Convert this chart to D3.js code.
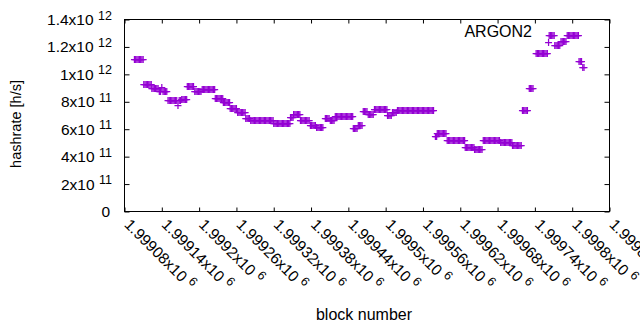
<!DOCTYPE html>
<html><head><meta charset="utf-8">
<script src="https://cdn.jsdelivr.net/npm/d3@7"></script>
<style>html,body{margin:0;padding:0;background:#fff;}svg{display:block;font-family:"Liberation Sans",Arial,sans-serif;}</style>
</head><body><svg id="chart" width="640" height="330"></svg>
<script>
// ---- data ----
const blocks = [
1999096,1999098,1999100,1999102,1999104,1999106,1999108,1999110,
1999111,1999113,1999115,1999117,1999119,1999121,1999123,
1999124,1999126,1999128,1999130,1999132,1999134,
1999136,1999138,1999140,1999142,1999144,1999146,1999148,
1999150,1999152,1999154,1999156,1999158,1999160,1999162,1999164,1999166,1999168,1999170,
1999172,1999174,1999176,1999178,1999180,
1999181,1999183,1999185,1999187,1999189,1999191,
1999193,1999195,1999197,1999199,1999201,1999203,
1999205,1999207,1999209,1999211,1999213,1999215,1999217,1999219,1999221,1999223,1999225,
1999226,1999228,1999230,1999232,1999234,1999236,1999238,
1999239,1999241,1999243,1999245,1999247,1999249,
1999250,1999252,1999254,1999256,1999258,1999260,
1999262,1999264,1999266,1999268,1999270,1999272,1999274,
1999275,1999277,1999279,1999281,
1999283,1999285,1999287,1999289,1999291,1999293,1999295,1999297,1999299,1999301,1999303,1999305,1999307,1999309,1999311,1999313,1999315,1999317,1999319,
1999320,1999322,1999324,1999326,1999328,1999330,1999332,1999334,1999336,1999338,1999340,1999342,1999344,1999346,
1999347,1999349,1999351,
1999352,1999354,1999356,1999358,1999360,1999362,
1999363,1999365,1999367,1999369,1999371,1999373,1999375,1999377,
1999379,1999381,1999383,1999385,1999387,
1999389,1999391,1999393,1999395,1999397,1999399,
1999403,1999405,1999407,1999409,
1999411,1999413,1999415,1999417,
1999419,1999421,1999423,1999425,1999427,1999429,1999431,1999433,1999435,1999437,1999439,1999441,1999443,1999445,1999447,
1999448,1999450,1999452,1999454,
1999456,1999458,1999460,1999462,
1999464,1999466,1999468,1999470,
1999472,1999474,1999476,1999478,1999480,
1999482,1999484,1999486,1999488,1999490,1999492,1999494,1999496,1999498,1999500,1999502,
1999503,1999505,1999507,1999509,
1999511,1999513,1999515,1999517,
1999519,1999521,1999523,1999525,1999527,1999529,1999531,1999533,1999535,1999537,1999539,1999541,1999543,1999545,1999547,1999549,1999551,1999553,1999555,1999557,1999559,1999561,1999563,1999565,1999567,1999569,1999571,1999573,1999575,1999577,
1999580,1999582,
1999583,1999585,1999587,1999589,1999591,1999593,1999595,1999597,
1999599,1999601,1999603,1999605,1999607,1999609,1999611,1999613,1999615,1999617,1999619,1999621,1999623,1999625,1999627,
1999628,1999630,1999632,1999634,1999636,1999638,1999640,1999642,
1999643,1999645,1999647,1999649,1999651,1999653,1999655,
1999657,1999659,1999661,1999663,1999665,1999667,1999669,1999671,1999673,1999675,1999677,1999679,1999681,1999683,
1999685,1999687,1999689,1999691,1999693,1999695,1999697,1999699,1999701,1999703,
1999704,1999706,1999708,1999710,1999712,1999714,1999716,1999718,
1999720,1999722,1999724,1999726,1999728,
1999731,1999733,1999735,1999737,
1999742,1999744,1999746,1999748,1999750,1999752,1999754,1999756,1999758,1999760,
1999762,
1999763,1999765,1999767,1999769,1999771,
1999772,1999774,1999776,1999778,1999780,
1999782,1999784,1999786,1999788,1999790,
1999792,1999794,1999796,1999798,1999800,1999802,1999804,1999806,1999808,1999810,
1999811,1999813,1999815,
1999817,1999819
];
const hashrate = [
1.113e12,1.113e12,1.113e12,1.113e12,1.113e12,1.113e12,1.113e12,1.113e12,
0.931e12,0.931e12,0.931e12,0.931e12,0.931e12,0.931e12,0.931e12,
0.902e12,0.902e12,0.902e12,0.902e12,0.902e12,0.902e12,
0.882e12,0.882e12,0.906e12,0.882e12,0.882e12,0.882e12,0.882e12,
0.815e12,0.815e12,0.815e12,0.815e12,0.815e12,0.815e12,0.815e12,0.815e12,0.780e12,0.815e12,0.815e12,
0.822e12,0.822e12,0.822e12,0.822e12,0.822e12,
0.917e12,0.917e12,0.917e12,0.917e12,0.917e12,0.917e12,
0.880e12,0.880e12,0.880e12,0.880e12,0.880e12,0.880e12,
0.895e12,0.895e12,0.895e12,0.895e12,0.895e12,0.895e12,0.895e12,0.895e12,0.895e12,0.895e12,0.895e12,
0.829e12,0.829e12,0.829e12,0.829e12,0.829e12,0.829e12,0.829e12,
0.795e12,0.795e12,0.795e12,0.795e12,0.795e12,0.795e12,
0.758e12,0.758e12,0.758e12,0.758e12,0.758e12,0.758e12,
0.722e12,0.722e12,0.722e12,0.722e12,0.722e12,0.722e12,0.722e12,
0.685e12,0.685e12,0.685e12,0.685e12,
0.664e12,0.664e12,0.664e12,0.664e12,0.664e12,0.664e12,0.664e12,0.664e12,0.664e12,0.664e12,0.664e12,0.664e12,0.664e12,0.664e12,0.664e12,0.664e12,0.664e12,0.664e12,0.664e12,
0.647e12,0.647e12,0.647e12,0.647e12,0.647e12,0.647e12,0.647e12,0.647e12,0.647e12,0.647e12,0.647e12,0.647e12,0.647e12,0.647e12,
0.689e12,0.689e12,0.689e12,
0.712e12,0.712e12,0.712e12,0.712e12,0.712e12,0.712e12,
0.664e12,0.664e12,0.664e12,0.664e12,0.664e12,0.664e12,0.664e12,0.664e12,
0.629e12,0.629e12,0.629e12,0.629e12,0.629e12,
0.613e12,0.613e12,0.613e12,0.613e12,0.613e12,0.613e12,
0.682e12,0.682e12,0.682e12,0.682e12,
0.664e12,0.664e12,0.664e12,0.664e12,
0.693e12,0.693e12,0.693e12,0.693e12,0.693e12,0.693e12,0.693e12,0.693e12,0.693e12,0.693e12,0.693e12,0.693e12,0.693e12,0.693e12,0.693e12,
0.609e12,0.609e12,0.609e12,0.609e12,
0.634e12,0.634e12,0.634e12,0.634e12,
0.733e12,0.733e12,0.733e12,0.733e12,
0.711e12,0.711e12,0.711e12,0.711e12,0.711e12,
0.749e12,0.749e12,0.749e12,0.749e12,0.749e12,0.749e12,0.749e12,0.749e12,0.749e12,0.749e12,0.749e12,
0.704e12,0.704e12,0.704e12,0.704e12,
0.729e12,0.729e12,0.729e12,0.729e12,
0.742e12,0.742e12,0.742e12,0.742e12,0.742e12,0.742e12,0.742e12,0.742e12,0.742e12,0.742e12,0.742e12,0.742e12,0.742e12,0.742e12,0.742e12,0.742e12,0.742e12,0.742e12,0.742e12,0.742e12,0.742e12,0.742e12,0.742e12,0.742e12,0.742e12,0.742e12,0.742e12,0.742e12,0.742e12,0.742e12,
0.547e12,0.547e12,
0.569e12,0.569e12,0.569e12,0.569e12,0.569e12,0.569e12,0.569e12,0.569e12,
0.518e12,0.518e12,0.518e12,0.518e12,0.518e12,0.518e12,0.518e12,0.518e12,0.518e12,0.518e12,0.518e12,0.518e12,0.518e12,0.518e12,0.518e12,
0.469e12,0.469e12,0.469e12,0.469e12,0.469e12,0.469e12,0.469e12,0.469e12,
0.459e12,0.459e12,0.459e12,0.459e12,0.459e12,0.459e12,0.459e12,
0.523e12,0.523e12,0.523e12,0.523e12,0.523e12,0.523e12,0.523e12,0.523e12,0.523e12,0.523e12,0.523e12,0.523e12,0.523e12,0.523e12,
0.510e12,0.510e12,0.510e12,0.510e12,0.510e12,0.510e12,0.510e12,0.510e12,0.510e12,0.510e12,
0.485e12,0.485e12,0.485e12,0.485e12,0.485e12,0.485e12,0.485e12,0.485e12,
0.737e12,0.737e12,0.737e12,0.737e12,0.737e12,
0.902e12,0.902e12,0.902e12,0.902e12,
1.157e12,1.157e12,1.157e12,1.157e12,1.157e12,1.157e12,1.157e12,1.157e12,1.157e12,1.157e12,
1.235e12,
1.288e12,1.288e12,1.288e12,1.288e12,1.288e12,
1.214e12,1.214e12,1.214e12,1.214e12,1.214e12,
1.243e12,1.243e12,1.243e12,1.243e12,1.243e12,
1.288e12,1.288e12,1.288e12,1.288e12,1.288e12,1.288e12,1.288e12,1.288e12,1.288e12,1.288e12,
1.094e12,1.094e12,1.094e12,
1.057e12,1.057e12
];
const xTicks = [1999080,1999140,1999200,1999260,1999320,1999380,1999440,1999500,1999560,1999620,1999680,1999740,1999800,1999860];
const xTickMantissa = ["1.99908","1.99914","1.9992","1.99926","1.99932","1.99938","1.99944","1.9995","1.99956","1.99962","1.99968","1.99974","1.9998","1.99986"];
const xTickExponent = "6";
const yTicks = [0,2e11,4e11,6e11,8e11,1e12,1.2e12,1.4e12];
const yTickMantissa = ["0","2","4","6","8","1","1.2","1.4"];
const yTickExponent = ["","11","11","11","11","12","12","12"];
const seriesName = "ARGON2";
const xTitle = "block number";
const yTitle = "hashrate [h/s]";

// ---- layout ----
const L = 124.5, R = 609.5, T = 19.5, B = 211.5;
const color = "#9400d3";
const svg = d3.select("#chart");
svg.append("rect").attr("width",640).attr("height",330).attr("fill","#fff");

const x = d3.scaleLinear().domain([xTicks[0], xTicks[xTicks.length-1]]).range([L, R]);
const y = d3.scaleLinear().domain([yTicks[0], yTicks[yTicks.length-1]]).range([B, T]);

function styleAxis(g){
  g.select(".domain").remove();
  g.selectAll(".tick line").attr("stroke","#000").attr("stroke-width",1);
  g.selectAll(".tick text").remove();
}
svg.append("g").attr("transform",`translate(0,${B})`)
  .call(d3.axisBottom(x).tickValues(xTicks).tickSize(-4).tickSizeOuter(0)).call(styleAxis);
svg.append("g").attr("transform",`translate(0,${T})`)
  .call(d3.axisTop(x).tickValues(xTicks).tickSize(-4).tickSizeOuter(0)).call(styleAxis);
svg.append("g").attr("transform",`translate(${L},0)`)
  .call(d3.axisLeft(y).tickValues(yTicks).tickSize(-5).tickSizeOuter(0)).call(styleAxis);
svg.append("g").attr("transform",`translate(${R},0)`)
  .call(d3.axisRight(y).tickValues(yTicks).tickSize(-5).tickSizeOuter(0)).call(styleAxis);

svg.append("rect").attr("x",L).attr("y",T).attr("width",R-L).attr("height",B-T)
  .attr("fill","none").attr("stroke","#000").attr("stroke-width",1);

// y tick labels
const ylab = svg.append("g").attr("font-size",15.5).attr("fill","#000");
yTicks.forEach((v,i)=>{
  const t = ylab.append("text").attr("x",112).attr("y",y(v)+5.5).attr("text-anchor","end");
  if (yTickExponent[i]) {
    t.append("tspan").text(yTickMantissa[i]+"x10");
    t.append("tspan").attr("dx",4.5).attr("dy",-5.5).attr("font-size",12.5).text(yTickExponent[i]);
  } else {
    t.attr("x",110).text(yTickMantissa[i]);
  }
});

// x tick labels (rotated)
const xlab = svg.append("g").attr("font-size",15.5).attr("fill","#000");
xTicks.forEach((v,i)=>{
  const t = xlab.append("text").attr("transform",`translate(${x(v)-1},${B+14}) rotate(45)`);
  t.append("tspan").text(xTickMantissa[i]+"x10");
  t.append("tspan").attr("dx",4.5).attr("dy",-5.5).attr("font-size",12.5).text(xTickExponent);
});

// titles
svg.append("text").attr("x",364).attr("y",320).attr("text-anchor","middle").attr("font-size",16).text(xTitle);
svg.append("text").attr("transform","translate(21,124) rotate(-90)").attr("text-anchor","middle").attr("font-size",14.5).text(yTitle);
svg.append("text").attr("x",532).attr("y",37).attr("text-anchor","end").attr("font-size",16).text(seriesName);

// points
const pts = blocks.map((b,i)=>({b, v:hashrate[i]}));
svg.append("g").selectAll("path").data(pts).join("path")
  .attr("d", d=>{
    const px = x(d.b), py = Math.round(y(d.v)) + 0.5;
    return `M${px-3.5},${py}h7M${px},${py-3.5}v7`;
  })
  .attr("fill","none").attr("stroke",color).attr("stroke-width",1.25);
</script></body></html>
